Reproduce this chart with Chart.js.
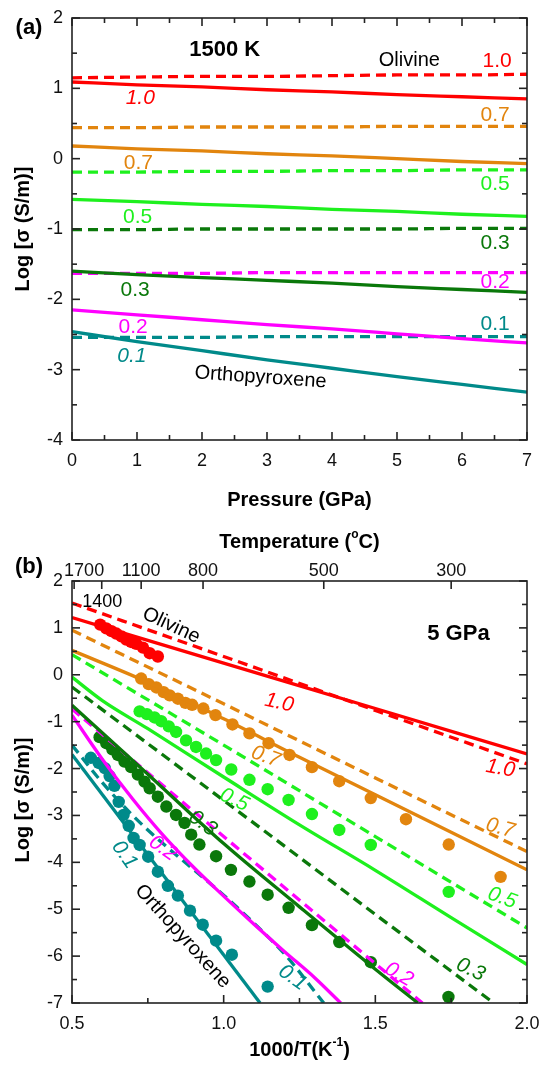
<!DOCTYPE html>
<html>
<head>
<meta charset="utf-8">
<script src="https://cdn.jsdelivr.net/npm/chart.js@4.4.0/dist/chart.umd.min.js"></script>
<style>
  html, body { margin: 0; padding: 0; background: #fff; }
  #wrapA { position: absolute; left: 0; top: 0; width: 542px; height: 520px; }
  #wrapB { position: absolute; left: 0; top: 520px; width: 542px; height: 548px; }
</style>
</head>
<body>
<div id="wrapA"><canvas id="chartA"></canvas></div>
<div id="wrapB"><canvas id="chartB"></canvas></div>
<script>
// ---- (a) 1500 K : log conductivity vs pressure ----
const pressure = [0, 1, 2, 3, 4, 5, 6, 7];
const aDash10  = [1.15, 1.16, 1.17, 1.17, 1.18, 1.19, 1.19, 1.20];
const aSolid10 = [1.09, 1.05, 1.02, 0.98, 0.95, 0.91, 0.88, 0.85];
const aDash07  = [0.44, 0.44, 0.45, 0.45, 0.45, 0.46, 0.46, 0.46];
const aSolid07 = [0.18, 0.14, 0.11, 0.07, 0.04, 0.00, -0.04, -0.07];
const aDash05  = [-0.19, -0.19, -0.18, -0.18, -0.17, -0.17, -0.16, -0.16];
const aSolid05 = [-0.58, -0.61, -0.65, -0.68, -0.72, -0.75, -0.79, -0.82];
const aDash03  = [-1.01, -1.01, -1.00, -1.00, -1.00, -1.00, -0.99, -0.99];
const aSolid03 = [-1.60, -1.65, -1.69, -1.73, -1.77, -1.82, -1.86, -1.90];
const aDash02  = [-1.63, -1.63, -1.63, -1.62, -1.62, -1.62, -1.62, -1.62];
const aSolid02 = [-2.15, -2.22, -2.29, -2.36, -2.42, -2.49, -2.56, -2.62];
const aDash01  = [-2.54, -2.54, -2.54, -2.53, -2.53, -2.53, -2.53, -2.53];
const aSolid01 = [-2.46, -2.60, -2.73, -2.86, -2.98, -3.10, -3.21, -3.32];
const aXTicks = [0, 1, 2, 3, 4, 5, 6, 7];
const aYTicks = [-4, -3, -2, -1, 0, 1, 2];

// ---- (b) 5 GPa : log conductivity vs 1000/T ----
const bSolid10X = [0.5, 1.0, 1.5, 2.0];
const bSolid10Y = [1.22, 0.25, -0.72, -1.69];
const bDash10X  = [0.5, 1.0, 1.5, 2.0];
const bDash10Y  = [1.53, 0.39, -0.76, -1.90];
const bSolid07X = [0.5, 0.75, 1.0, 1.25, 1.5, 1.75, 2.0];
const bSolid07Y = [0.52, -0.16, -0.94, -1.76, -2.56, -3.36, -4.16];
const bDash07X  = [0.5, 1.0, 1.5, 2.0];
const bDash07Y  = [0.95, -0.62, -2.20, -3.77];
const bSolid05X = [0.5, 0.6, 0.75, 1.0, 1.25, 1.5, 1.75, 2.0];
const bSolid05Y = [-0.05, -0.55, -1.15, -2.18, -3.20, -4.17, -5.18, -6.18];
const bDash05X  = [0.5, 1.0, 1.5, 2.0];
const bDash05Y  = [0.43, -1.50, -3.45, -5.40];
const bSolid03X = [0.5, 0.75, 1.0, 1.25, 1.5, 1.64];
const bSolid03Y = [-0.65, -2.12, -3.60, -4.95, -6.28, -7.0];
const bDash03X  = [0.5, 1.0, 1.5, 1.89];
const bDash03Y  = [-0.26, -2.68, -5.11, -7.0];
const bSolid02X = [0.5, 0.6, 0.7, 0.8, 0.9, 1.0, 1.1, 1.2, 1.3, 1.386];
const bSolid02Y = [-0.86, -1.80, -2.65, -3.42, -4.10, -4.72, -5.32, -5.90, -6.46, -7.0];
const bDash02X  = [0.5, 1.0, 1.5, 1.655];
const bDash02Y  = [-0.73, -3.45, -6.16, -7.0];
const bSolid01X = [0.5, 1.12];
const bSolid01Y = [-1.70, -7.0];
const bDash01X  = [0.5, 0.6, 0.7, 0.8, 0.9, 1.0, 1.1, 1.2, 1.33];
const bDash01Y  = [-1.50, -2.30, -3.00, -3.60, -4.15, -4.70, -5.30, -5.95, -7.0];

// measured points
const dots10X = [0.593, 0.613, 0.630, 0.646, 0.663, 0.679, 0.695, 0.712, 0.734, 0.756, 0.783];
const dots10Y = [1.07, 0.99, 0.93, 0.88, 0.82, 0.75, 0.70, 0.66, 0.58, 0.46, 0.39];
const dots07X = [0.728, 0.753, 0.778, 0.802, 0.822, 0.849, 0.874, 0.896, 0.933, 0.973, 1.029, 1.085, 1.148, 1.217, 1.291, 1.381, 1.485, 1.601, 1.742, 1.913];
const dots07Y = [-0.08, -0.20, -0.27, -0.37, -0.44, -0.51, -0.60, -0.64, -0.72, -0.86, -1.06, -1.25, -1.46, -1.71, -1.97, -2.27, -2.63, -3.08, -3.62, -4.31];
const dots05X = [0.723, 0.747, 0.772, 0.794, 0.819, 0.843, 0.876, 0.909, 0.942, 0.975, 1.025, 1.085, 1.145, 1.214, 1.291, 1.381, 1.485, 1.742];
const dots05Y = [-0.78, -0.84, -0.91, -0.99, -1.10, -1.22, -1.40, -1.54, -1.68, -1.82, -2.02, -2.24, -2.44, -2.67, -2.97, -3.31, -3.63, -4.63];
const dots03X = [0.591, 0.613, 0.633, 0.651, 0.673, 0.695, 0.717, 0.739, 0.756, 0.783, 0.811, 0.843, 0.871, 0.893, 0.920, 0.975, 1.024, 1.085, 1.145, 1.214, 1.291, 1.381, 1.485, 1.741];
const dots03Y = [-1.33, -1.46, -1.59, -1.71, -1.85, -1.97, -2.13, -2.28, -2.42, -2.60, -2.81, -2.99, -3.16, -3.41, -3.62, -3.87, -4.16, -4.41, -4.69, -4.97, -5.34, -5.70, -6.13, -6.87];
const dots01X = [0.562, 0.588, 0.608, 0.624, 0.640, 0.654, 0.670, 0.687, 0.703, 0.723, 0.751, 0.783, 0.816, 0.849, 0.889, 0.931, 0.975, 1.027, 1.145];
const dots01Y = [-1.77, -1.88, -1.99, -2.16, -2.37, -2.71, -2.99, -3.22, -3.48, -3.63, -3.88, -4.20, -4.50, -4.71, -5.03, -5.33, -5.67, -5.97, -6.65];

const bXTicks = [0.5, 1.0, 1.5, 2.0];
const bYTicks = [-7, -6, -5, -4, -3, -2, -1, 0, 1, 2];
const topTickPos = [0.507, 0.598, 0.728, 0.932, 1.33, 1.75];
const topTickLabels = ['1700', '', '1100', '800', '500', '300'];

const RED = '#ff0000', ORANGE = '#e2850e', LGREEN = '#1ef01e', DGREEN = '#0a780a', MAGENTA = '#ff00ff', TEAL = '#008a8a';
const FONT = '"Liberation Sans", Arial, Helvetica, sans-serif';

function lineSet(xs, ys, color, dashed) {
  return {
    data: xs.map((x, i) => ({ x: x, y: ys[i] })),
    borderColor: color,
    backgroundColor: color,
    borderWidth: 3.3,
    borderDash: dashed ? [10, 6] : [],
    showLine: true,
    pointRadius: 0,
    cubicInterpolationMode: 'monotone',
    fill: false
  };
}
function dotSet(xs, ys, color) {
  return {
    data: xs.map((x, i) => ({ x: x, y: ys[i] })),
    showLine: false,
    pointRadius: 6.2,
    pointBackgroundColor: color,
    pointBorderWidth: 0,
    backgroundColor: color
  };
}

function drawText(ctx, s, x, y, o) {
  ctx.save();
  ctx.translate(x, y);
  if (o.rot) ctx.rotate(o.rot * Math.PI / 180);
  ctx.font = (o.italic ? 'italic ' : '') + (o.bold ? 'bold ' : '') + (o.size || 20) + 'px ' + FONT;
  ctx.fillStyle = o.color || '#000';
  ctx.textAlign = o.align || 'center';
  ctx.textBaseline = 'middle';
  ctx.fillText(s, 0, 0);
  ctx.restore();
}
// text with superscripts, parts = [[text, isSup], ...]
function drawRich(ctx, parts, cx, cy, size, rot) {
  ctx.save();
  ctx.translate(cx, cy);
  if (rot) ctx.rotate(rot * Math.PI / 180);
  ctx.textBaseline = 'middle';
  ctx.textAlign = 'left';
  ctx.fillStyle = '#000';
  let w = 0;
  parts.forEach(p => {
    ctx.font = 'bold ' + (p[1] ? size * 0.6 : size) + 'px ' + FONT;
    w += ctx.measureText(p[0]).width;
  });
  let x = -w / 2;
  parts.forEach(p => {
    ctx.font = 'bold ' + (p[1] ? size * 0.6 : size) + 'px ' + FONT;
    ctx.fillText(p[0], x, p[1] ? -size * 0.35 : 0);
    x += ctx.measureText(p[0]).width;
  });
  ctx.restore();
}

const decor = {
  id: 'decor',
  afterDatasetsDraw(chart, args, o) {
    const { ctx, chartArea: a, scales: { x, y } } = chart;
    ctx.save();
    ctx.strokeStyle = '#222';
    ctx.lineWidth = 1.6;
    ctx.strokeRect(a.left, a.top, a.right - a.left, a.bottom - a.top);
    const tick = (px, py, dx, dy) => {
      ctx.beginPath(); ctx.moveTo(px, py); ctx.lineTo(px + dx, py + dy); ctx.stroke();
    };
    for (let v = x.min; v <= x.max + 1e-9; v += o.xMinor) {
      const p = x.getPixelForValue(v);
      const major = o.xTicks.some(t => Math.abs(t - v) < 1e-6);
      const L = major ? 8 : 5;
      tick(p, a.bottom, 0, -L);
      if (!o.topTicks) tick(p, a.top, 0, L);
    }
    for (let v = y.min; v <= y.max + 1e-9; v += o.yMinor) {
      const p = y.getPixelForValue(v);
      const major = o.yTicks.some(t => Math.abs(t - v) < 1e-6);
      const L = major ? 8 : 5;
      tick(a.left, p, L, 0);
      tick(a.right, p, -L, 0);
    }
    if (o.topTicks) {
      o.topTicks.forEach((v, i) => {
        const p = x.getPixelForValue(v);
        tick(p, a.top, 0, 8);
        const s = o.topLabels[i];
        if (s) drawText(ctx, s, i === 0 ? p + 10 : p, a.top - 10, { size: 18, color: '#111' });
      });
    }
    o.notes.forEach(n => {
      drawText(ctx, n.t, x.getPixelForValue(n.x), y.getPixelForValue(n.y), n);
    });
    o.titles(ctx, a);
    ctx.restore();
  }
};

function scales(xMin, xMax, xStep, yMin, yMax, xH, fmt) {
  const tickFont = { size: 18, family: FONT };
  return {
    x: {
      type: 'linear', min: xMin, max: xMax,
      ticks: { stepSize: xStep, font: tickFont, color: '#111', padding: 10, maxRotation: 0, autoSkip: false, callback: fmt },
      grid: { display: false, drawTicks: false },
      border: { display: false },
      afterFit(s) { s.height = xH; s.paddingLeft = 0; s.paddingRight = 0; }
    },
    y: {
      type: 'linear', min: yMin, max: yMax,
      ticks: { stepSize: 1, font: tickFont, color: '#111', padding: 9 },
      grid: { display: false, drawTicks: false },
      border: { display: false },
      afterFit(s) { s.width = 72; s.paddingTop = 0; s.paddingBottom = 0; }
    }
  };
}

new Chart(document.getElementById('chartA'), {
  type: 'scatter',
  data: {
    datasets: [
      lineSet(pressure, aDash10, RED, true),
      lineSet(pressure, aSolid10, RED, false),
      lineSet(pressure, aDash07, ORANGE, true),
      lineSet(pressure, aSolid07, ORANGE, false),
      lineSet(pressure, aDash05, LGREEN, true),
      lineSet(pressure, aSolid05, LGREEN, false),
      lineSet(pressure, aDash03, DGREEN, true),
      lineSet(pressure, aSolid03, DGREEN, false),
      lineSet(pressure, aDash02, MAGENTA, true),
      lineSet(pressure, aSolid02, MAGENTA, false),
      lineSet(pressure, aDash01, TEAL, true),
      lineSet(pressure, aSolid01, TEAL, false)
    ]
  },
  options: {
    responsive: true,
    maintainAspectRatio: false,
    animation: false,
    layout: { padding: { top: 18, right: 15, left: 0, bottom: 0 } },
    scales: scales(0, 7, 1, -4, 2, 80, v => v),
    plugins: {
      legend: { display: false },
      tooltip: { enabled: false },
      decor: {
        xTicks: aXTicks, yTicks: aYTicks, xMinor: 0.5, yMinor: 0.5,
        notes: [
          { t: '1500 K', x: 2.35, y: 1.54, bold: true, size: 22 },
          { t: 'Olivine', x: 5.19, y: 1.40, size: 20 },
          { t: '1.0', x: 6.54, y: 1.38, color: RED, size: 21 },
          { t: '1.0', x: 1.05, y: 0.855, color: RED, size: 21, italic: true },
          { t: '0.7', x: 6.51, y: 0.62, color: ORANGE, size: 21 },
          { t: '0.7', x: 1.02, y: -0.07, color: ORANGE, size: 21 },
          { t: '0.5', x: 6.51, y: -0.36, color: LGREEN, size: 21 },
          { t: '0.5', x: 1.01, y: -0.834, color: LGREEN, size: 21 },
          { t: '0.3', x: 6.51, y: -1.195, color: DGREEN, size: 21 },
          { t: '0.3', x: 0.97, y: -1.87, color: DGREEN, size: 21 },
          { t: '0.2', x: 6.51, y: -1.75, color: MAGENTA, size: 21 },
          { t: '0.2', x: 0.94, y: -2.40, color: MAGENTA, size: 21 },
          { t: '0.1', x: 6.51, y: -2.35, color: TEAL, size: 21 },
          { t: '0.1', x: 0.92, y: -2.81, color: TEAL, size: 21, italic: true },
          { t: 'Orthopyroxene', x: 2.9, y: -3.11, size: 20, rot: 4 }
        ],
        titles(ctx, a) {
          drawText(ctx, '(a)', 29, 28, { bold: true, size: 22 });
          drawText(ctx, 'Pressure (GPa)', (a.left + a.right) / 2, 500, { bold: true, size: 20 });
          drawText(ctx, 'Log [\u03c3 (S/m)]', 23, (a.top + a.bottom) / 2, { bold: true, size: 20, rot: -90 });
        }
      }
    }
  },
  plugins: [decor]
});

new Chart(document.getElementById('chartB'), {
  type: 'scatter',
  data: {
    datasets: [
      lineSet(bSolid10X, bSolid10Y, RED, false),
      lineSet(bDash10X, bDash10Y, RED, true),
      lineSet(bSolid07X, bSolid07Y, ORANGE, false),
      lineSet(bDash07X, bDash07Y, ORANGE, true),
      lineSet(bSolid05X, bSolid05Y, LGREEN, false),
      lineSet(bDash05X, bDash05Y, LGREEN, true),
      lineSet(bSolid03X, bSolid03Y, DGREEN, false),
      lineSet(bDash03X, bDash03Y, DGREEN, true),
      lineSet(bSolid02X, bSolid02Y, MAGENTA, false),
      lineSet(bDash02X, bDash02Y, MAGENTA, true),
      lineSet(bSolid01X, bSolid01Y, TEAL, false),
      lineSet(bDash01X, bDash01Y, TEAL, true),
      dotSet(dots10X, dots10Y, RED),
      dotSet(dots07X, dots07Y, ORANGE),
      dotSet(dots05X, dots05Y, LGREEN),
      dotSet(dots03X, dots03Y, DGREEN),
      dotSet(dots01X, dots01Y, TEAL)
    ]
  },
  options: {
    responsive: true,
    maintainAspectRatio: false,
    animation: false,
    layout: { padding: { top: 61, right: 15, left: 0, bottom: 0 } },
    scales: scales(0.5, 2.0, 0.5, -7, 2, 65, v => Number(v).toFixed(1)),
    plugins: {
      legend: { display: false },
      tooltip: { enabled: false },
      decor: {
        xTicks: bXTicks, yTicks: bYTicks, xMinor: 0.25, yMinor: 0.5,
        topTicks: topTickPos, topLabels: topTickLabels,
        notes: [
          { t: '1400', x: 0.60, y: 1.56, size: 18 },
          { t: 'Olivine', x: 0.827, y: 1.05, size: 20, rot: 25 },
          { t: '5 GPa', x: 1.774, y: 0.87, bold: true, size: 22 },
          { t: '1.0', x: 1.183, y: -0.60, color: RED, size: 21, italic: true, rot: 12 },
          { t: '1.0', x: 1.912, y: -2.0, color: RED, size: 21, italic: true, rot: 10 },
          { t: '0.7', x: 1.139, y: -1.75, color: ORANGE, size: 21, italic: true, rot: 20 },
          { t: '0.7', x: 1.912, y: -3.27, color: ORANGE, size: 21, italic: true, rot: 15 },
          { t: '0.5', x: 1.035, y: -2.67, color: LGREEN, size: 21, italic: true, rot: 25 },
          { t: '0.5', x: 1.918, y: -4.76, color: LGREEN, size: 21, italic: true, rot: 20 },
          { t: '0.3', x: 0.931, y: -3.17, color: DGREEN, size: 21, italic: true, rot: 35 },
          { t: '0.3', x: 1.814, y: -6.29, color: DGREEN, size: 21, italic: true, rot: 25 },
          { t: '0.2', x: 0.80, y: -3.70, color: MAGENTA, size: 21, italic: true, rot: 35 },
          { t: '0.2', x: 1.578, y: -6.39, color: MAGENTA, size: 21, italic: true, rot: 30 },
          { t: '0.1', x: 0.673, y: -3.84, color: TEAL, size: 21, italic: true, rot: 55 },
          { t: '0.1', x: 1.227, y: -6.46, color: TEAL, size: 21, italic: true, rot: 35 },
          { t: 'Orthopyroxene', x: 0.865, y: -5.58, size: 20, rot: 48 }
        ],
        titles(ctx, a) {
          drawText(ctx, '(b)', 29, 47, { bold: true, size: 22 });
          drawRich(ctx, [['Temperature (', false], ['o', true], ['C)', false]], (a.left + a.right) / 2, 22, 20);
          drawText(ctx, 'Log [\u03c3 (S/m)]', 23, 280, { bold: true, size: 20, rot: -90 });
          drawRich(ctx, [['1000/T(K', false], ['-1', true], [')', false]], (a.left + a.right) / 2, 530, 20);
        }
      }
    }
  },
  plugins: [decor]
});
</script>
</body>
</html>
